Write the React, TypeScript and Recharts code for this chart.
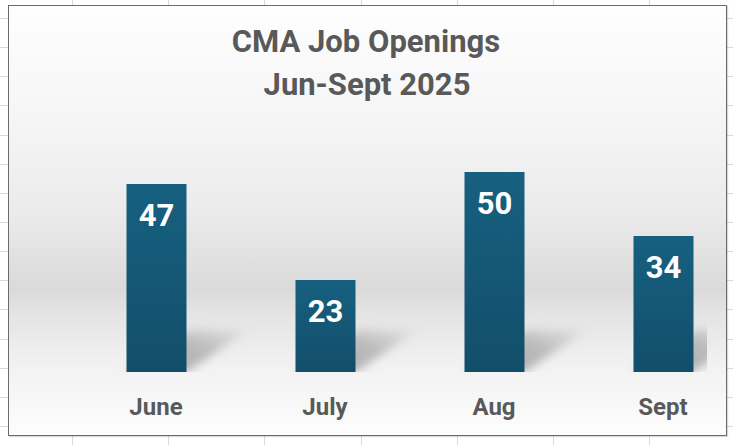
import React from 'react';
import { BarChart, Bar, XAxis, YAxis, LabelList } from 'recharts';

const months = ['June', 'July', 'Aug', 'Sept'];
const openings = [47, 23, 50, 34];
const titleLines = ['CMA Job Openings', 'Jun-Sept 2025'];

const data = months.map((m, i) => ({ month: m, openings: openings[i] }));

const FONT = 'Roboto, "Liberation Sans", Arial, sans-serif';
const TEXT_GRAY = '#595959';

// bar with its soft slanted shadow behind it
const ShadowBar = (props: any) => {
  const { x, y, width, height } = props;
  const bottom = y + height;
  const dx = 62;
  const dy = 42;
  const pts = [
    [x, bottom],
    [x + width, bottom],
    [x + width + dx, bottom - dy],
    [x + dx, bottom - dy],
  ]
    .map((p) => p.join(','))
    .join(' ');
  return (
    <g>
      <g clipPath="url(#plotClip)">
        <polygon points={pts} fill="url(#shadowGrad)" filter="url(#shadowBlur)" />
      </g>
      <rect x={x} y={y} width={width} height={height} fill="url(#barGrad)" />
    </g>
  );
};

const BarValue = (props: any) => {
  const { x, y, width, value } = props;
  return (
    <text
      x={x + width / 2}
      y={y + 42}
      textAnchor="middle"
      fill="#ffffff"
      fontFamily={FONT}
      fontWeight={700}
      fontSize={31}
    >
      {value}
    </text>
  );
};

const MonthTick = (props: any) => {
  const { x, y, payload } = props;
  return (
    <text
      x={x}
      y={y + 43}
      textAnchor="middle"
      fill={TEXT_GRAY}
      fontFamily={FONT}
      fontWeight={700}
      fontSize={24}
    >
      {payload.value}
    </text>
  );
};

export default function App() {
  return (
    <div
      style={{
        position: 'absolute',
        left: 0,
        top: 0,
        width: 733,
        height: 445,
        overflow: 'hidden',
        background: '#ffffff',
        backgroundImage:
          'repeating-linear-gradient(to right, transparent 0px, transparent 71px, #dadada 71px, #dadada 72px, transparent 72px, transparent 96.2px), repeating-linear-gradient(to bottom, transparent 0px, transparent 18px, #dadada 18px, #dadada 19px, transparent 19px, transparent 29.15px)',
        backgroundPosition: '1px 0px, 0px 0px',
      }}
    >
      {/* chart area */}
      <div
        style={{
          position: 'absolute',
          left: 8,
          top: 5,
          width: 717,
          height: 429,
          border: '1.5px solid #6b6b6b',
          boxShadow: '1px 1px 1px rgba(0,0,0,0.15)',
          background:
            'linear-gradient(to bottom, #fefefe 0%, #f6f6f6 25%, #ebebeb 48%, #dadada 66%, #e4e4e4 72%, #f2f2f2 84%, #fdfdfd 100%)',
        }}
      />
      <svg
        width={733}
        height={110}
        style={{ position: 'absolute', left: 0, top: 0 }}
      >
        <text
          x={366}
          y={52}
          textAnchor="middle"
          fill={TEXT_GRAY}
          fontFamily={FONT}
          fontWeight={700}
          fontSize={31}
        >
          {titleLines[0]}
        </text>
        <text
          x={367}
          y={95}
          textAnchor="middle"
          fill={TEXT_GRAY}
          fontFamily={FONT}
          fontWeight={700}
          fontSize={31}
        >
          {titleLines[1]}
        </text>
      </svg>
      <div style={{ position: 'absolute', left: 0, top: 0 }}>
        <BarChart
          width={760}
          height={445}
          data={data}
          margin={{ top: 172, right: 12.5, bottom: 33, left: 71.5 }}
        >
          <defs>
            <linearGradient id="barGrad" x1="0" y1="0" x2="0" y2="1">
              <stop offset="0%" stopColor="#176080" />
              <stop offset="100%" stopColor="#124e6a" />
            </linearGradient>
            <linearGradient id="shadowGrad" x1="0" y1="1" x2="1" y2="0">
              <stop offset="0%" stopColor="#8a8a8a" stopOpacity={0.75} />
              <stop offset="60%" stopColor="#9a9a9a" stopOpacity={0.6} />
              <stop offset="100%" stopColor="#b0b0b0" stopOpacity={0.15} />
            </linearGradient>
            <filter id="shadowBlur" x="-30%" y="-30%" width="160%" height="160%">
              <feGaussianBlur stdDeviation="5" />
            </filter>
            <clipPath id="plotClip">
              <rect x={0} y={0} width={707} height={372} />
            </clipPath>
          </defs>
          <XAxis
            dataKey="month"
            height={40}
            axisLine={false}
            tickLine={false}
            tickSize={0}
            tickMargin={0}
            interval={0}
            tick={<MonthTick />}
          />
          <YAxis hide domain={[0, 50]} />
          <Bar
            dataKey="openings"
            barSize={60}
            shape={<ShadowBar />}
            isAnimationActive={false}
          >
            <LabelList dataKey="openings" content={<BarValue />} />
          </Bar>
        </BarChart>
      </div>
    </div>
  );
}
